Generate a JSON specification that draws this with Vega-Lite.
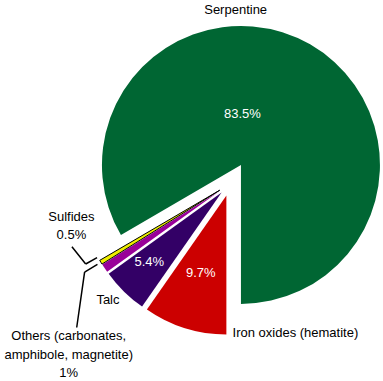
{
  "$schema": "https://vega.github.io/schema/vega-lite/v6.json",
  "width": 306,
  "height": 368,
  "autosize": {"type": "none"},
  "padding": {"left": 77, "top": 0, "right": 0, "bottom": 13},
  "background": "white",
  "config": {
    "view": {"stroke": null},
    "text": {"font": "Liberation Sans", "fontSize": 13, "baseline": "alphabetic"}
  },
  "data": {
    "values": [
      {"mineral": "Iron oxides", "label": "Iron oxides (hematite)", "share": 9.7, "order": 1},
      {"mineral": "Talc", "label": "Talc", "share": 5.4, "order": 2},
      {"mineral": "Others", "label": "Others (carbonates,\namphibole, magnetite)\n1%", "share": 1, "order": 3},
      {"mineral": "Sulfides", "label": "Sulfides\n0.5%", "share": 0.5, "order": 4},
      {"mineral": "Serpentine", "label": "Serpentine", "share": 83.5, "order": 5}
    ]
  },
  "transform": [
    {"stack": "share", "groupby": [], "sort": [{"field": "order"}], "as": ["v0", "v1"]},
    {"calculate": "(datum.v0 + datum.v1) / 2", "as": "mid"},
    {"calculate": "PI + 2 * PI * datum.mid / 100.1", "as": "ang"},
    {"calculate": "datum.share + '%'", "as": "pct"}
  ],
  "layer": [
    {
      "mark": {
        "type": "arc",
        "outerRadius": 139,
        "stroke": "black",
        "xOffset": {"expr": "(datum.mineral === 'Serpentine' ? 22 : 12) * sin(datum.ang)"},
        "yOffset": {"expr": "-(datum.mineral === 'Serpentine' ? 22 : 12) * cos(datum.ang)"}
      },
      "encoding": {
        "theta": {"field": "v0", "type": "quantitative", "stack": null, "scale": {"domain": [0, 100.1], "range": [3.14159265, 9.42477796]}},
        "theta2": {"field": "v1"},
        "color": {
          "field": "mineral",
          "type": "nominal",
          "scale": {
            "domain": ["Iron oxides", "Talc", "Others", "Sulfides", "Serpentine"],
            "range": ["#cc0000", "#330066", "#990099", "#eeee00", "#006633"]
          },
          "legend": null
        },
        "strokeWidth": {"condition": {"test": "datum.mineral === 'Sulfides'", "value": 1}, "value": 0}
      }
    },
    {
      "transform": [{"filter": "datum.mineral === 'Sulfides'"}],
      "mark": {"type": "arc", "fill": null, "stroke": "black", "strokeWidth": 1.5, "innerRadius": 152, "outerRadius": 165, "thetaOffset": 0.0384, "theta2Offset": 0.0384},
      "encoding": {
        "theta": {"field": "mid", "type": "quantitative", "stack": null},
        "theta2": {"field": "mid"}
      }
    },
    {
      "transform": [{"filter": "datum.mineral === 'Sulfides'"}],
      "mark": {
        "type": "arc", "fill": null, "stroke": "black", "strokeWidth": 1.5, "innerRadius": 0, "outerRadius": 22,
        "thetaOffset": 1.44, "theta2Offset": 1.44,
        "xOffset": {"expr": "165 * sin(datum.ang + 0.0384)"},
        "yOffset": {"expr": "-165 * cos(datum.ang + 0.0384)"}
      },
      "encoding": {
        "theta": {"field": "mid", "type": "quantitative", "stack": null},
        "theta2": {"field": "mid"}
      }
    },
    {
      "transform": [{"filter": "datum.mineral === 'Others'"}],
      "mark": {"type": "arc", "fill": null, "stroke": "black", "strokeWidth": 1.5, "innerRadius": 155, "outerRadius": 170, "thetaOffset": 0.047, "theta2Offset": 0.047},
      "encoding": {
        "theta": {"field": "mid", "type": "quantitative", "stack": null},
        "theta2": {"field": "mid"}
      }
    },
    {
      "transform": [{"filter": "datum.mineral === 'Others'"}],
      "mark": {
        "type": "arc", "fill": null, "stroke": "black", "strokeWidth": 1.5, "innerRadius": 0, "outerRadius": 56,
        "thetaOffset": -0.838, "theta2Offset": -0.838,
        "xOffset": {"expr": "170 * sin(datum.ang + 0.047)"},
        "yOffset": {"expr": "-170 * cos(datum.ang + 0.047)"}
      },
      "encoding": {
        "theta": {"field": "mid", "type": "quantitative", "stack": null},
        "theta2": {"field": "mid"}
      }
    },
    {
      "transform": [{"filter": "datum.mineral === 'Serpentine'"}],
      "mark": {"type": "text", "color": "white", "radius": 63, "dx": -19, "dy": -11},
      "encoding": {"theta": {"field": "mid", "type": "quantitative", "stack": null}, "text": {"field": "pct"}}
    },
    {
      "transform": [{"filter": "datum.mineral === 'Iron oxides'"}],
      "mark": {"type": "text", "color": "white", "radius": 97.5},
      "encoding": {"theta": {"field": "mid", "type": "quantitative", "stack": null}, "text": {"field": "pct"}}
    },
    {
      "transform": [{"filter": "datum.mineral === 'Talc'"}],
      "mark": {"type": "text", "color": "white", "radius": 115},
      "encoding": {"theta": {"field": "mid", "type": "quantitative", "stack": null}, "text": {"field": "pct"}}
    },
    {
      "transform": [{"filter": "datum.mineral === 'Serpentine'"}],
      "mark": {"type": "text", "color": "black", "radius": 150, "dx": -69, "dy": -40},
      "encoding": {"theta": {"field": "mid", "type": "quantitative", "stack": null}, "text": {"field": "label"}}
    },
    {
      "transform": [{"filter": "datum.mineral === 'Talc'"}],
      "mark": {"type": "text", "color": "black", "radius": 171, "dx": -2, "dy": -2},
      "encoding": {"theta": {"field": "mid", "type": "quantitative", "stack": null}, "text": {"field": "label"}}
    },
    {
      "transform": [{"filter": "datum.mineral === 'Iron oxides'"}],
      "mark": {"type": "text", "color": "black", "align": "left", "radius": 145, "dx": 46, "dy": 14.5},
      "encoding": {"theta": {"field": "mid", "type": "quantitative", "stack": null}, "text": {"field": "label"}}
    },
    {
      "transform": [{"filter": "datum.mineral === 'Sulfides'"}],
      "mark": {"type": "text", "color": "black", "radius": 155, "dx": -26, "dy": -43, "lineBreak": "\n", "lineHeight": 17.3},
      "encoding": {"theta": {"field": "mid", "type": "quantitative", "stack": null}, "text": {"field": "label"}}
    },
    {
      "transform": [{"filter": "datum.mineral === 'Others'"}],
      "mark": {"type": "text", "color": "black", "radius": 222, "dx": 23, "dy": 32.5, "lineBreak": "\n", "lineHeight": 18.6},
      "encoding": {"theta": {"field": "mid", "type": "quantitative", "stack": null}, "text": {"field": "label"}}
    }
  ]
}
